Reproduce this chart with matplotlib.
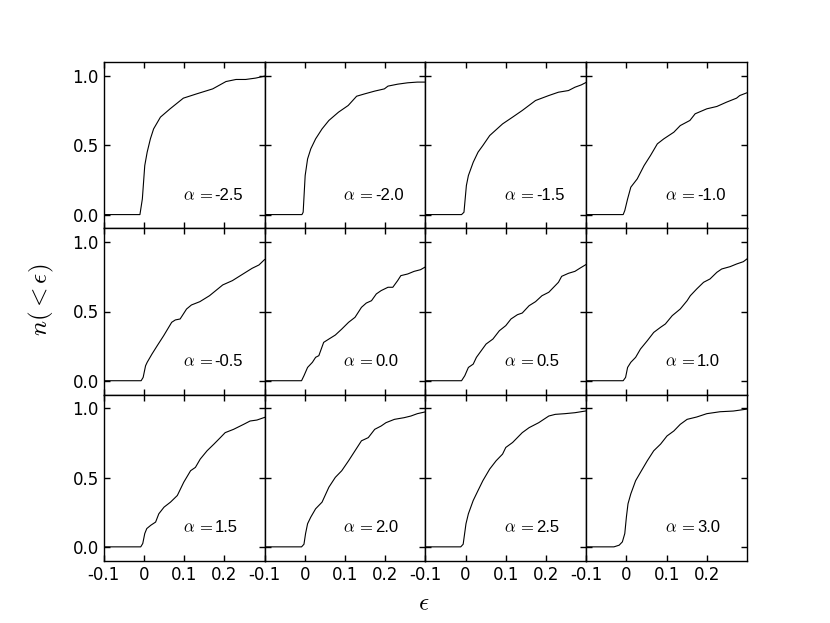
import matplotlib.pyplot as plt

plt.rcParams['mathtext.fontset'] = 'cm'
plt.rcParams['axes.linewidth'] = 1.0

# alpha value shown in each panel (row by row)
alphas = ['-2.5', '-2.0', '-1.5', '-1.0', '-0.5', '0.0', '0.5', '1.0', '1.5', '2.0', '2.5', '3.0']

# cumulative curves n(<eps)
eps_a = [-0.1, -0.010, -0.004, 0.002, 0.008, 0.016, 0.024, 0.041, 0.065, 0.098, 0.131, 0.171, 0.204, 0.229, 0.253, 0.278, 0.30]
n_a = [0.0, 0.0, 0.113, 0.354, 0.451, 0.547, 0.619, 0.704, 0.764, 0.841, 0.872, 0.908, 0.961, 0.976, 0.976, 0.986, 1.0]

eps_b = [-0.1, -0.007, -0.004, 0.001, 0.007, 0.015, 0.027, 0.043, 0.060, 0.084, 0.108, 0.129, 0.149, 0.174, 0.198, 0.207, 0.231, 0.256, 0.280, 0.30]
n_b = [0.0, 0.0, 0.017, 0.282, 0.402, 0.475, 0.547, 0.619, 0.680, 0.740, 0.788, 0.855, 0.872, 0.892, 0.908, 0.928, 0.942, 0.952, 0.957, 0.957]

eps_c = [-0.1, -0.010, -0.004, 0.002, 0.007, 0.019, 0.031, 0.043, 0.060, 0.092, 0.117, 0.141, 0.174, 0.207, 0.231, 0.256, 0.272, 0.288, 0.30]
n_c = [0.0, 0.0, 0.017, 0.210, 0.282, 0.378, 0.451, 0.499, 0.571, 0.655, 0.704, 0.752, 0.824, 0.860, 0.884, 0.896, 0.920, 0.937, 0.955]

eps_d = [-0.1, -0.008, -0.004, 0.003, 0.011, 0.027, 0.044, 0.060, 0.077, 0.093, 0.118, 0.134, 0.158, 0.171, 0.200, 0.225, 0.249, 0.274, 0.282, 0.30]
n_d = [0.0, 0.0, 0.029, 0.113, 0.198, 0.258, 0.354, 0.427, 0.511, 0.547, 0.595, 0.643, 0.680, 0.728, 0.764, 0.781, 0.812, 0.841, 0.860, 0.880]

eps_e = [-0.1, -0.007, -0.002, 0.004, 0.008, 0.020, 0.033, 0.049, 0.069, 0.078, 0.090, 0.106, 0.118, 0.139, 0.163, 0.196, 0.220, 0.253, 0.269, 0.286, 0.30]
n_e = [0.0, 0.0, 0.024, 0.108, 0.133, 0.193, 0.253, 0.325, 0.422, 0.439, 0.446, 0.518, 0.547, 0.571, 0.614, 0.692, 0.723, 0.783, 0.812, 0.836, 0.875]

eps_f = [-0.1, -0.008, -0.002, 0.007, 0.019, 0.027, 0.035, 0.047, 0.060, 0.076, 0.092, 0.109, 0.125, 0.141, 0.153, 0.166, 0.178, 0.190, 0.207, 0.219, 0.231, 0.239, 0.256, 0.272, 0.288, 0.30]
n_f = [0.0, 0.0, 0.036, 0.096, 0.133, 0.169, 0.181, 0.277, 0.301, 0.330, 0.373, 0.422, 0.458, 0.530, 0.561, 0.578, 0.627, 0.651, 0.675, 0.675, 0.723, 0.759, 0.771, 0.790, 0.802, 0.822]

eps_g = [-0.1, -0.010, -0.002, 0.007, 0.019, 0.027, 0.039, 0.051, 0.068, 0.084, 0.100, 0.113, 0.129, 0.141, 0.158, 0.174, 0.190, 0.207, 0.223, 0.231, 0.239, 0.256, 0.272, 0.284, 0.30]
n_g = [0.0, 0.0, 0.036, 0.096, 0.120, 0.169, 0.217, 0.265, 0.301, 0.361, 0.398, 0.446, 0.477, 0.489, 0.542, 0.571, 0.614, 0.639, 0.687, 0.711, 0.754, 0.776, 0.790, 0.812, 0.840]

eps_h = [-0.1, -0.008, -0.002, 0.003, 0.011, 0.023, 0.035, 0.052, 0.068, 0.085, 0.097, 0.114, 0.134, 0.151, 0.159, 0.175, 0.192, 0.208, 0.225, 0.237, 0.258, 0.274, 0.291, 0.30]
n_h = [0.0, 0.0, 0.024, 0.096, 0.133, 0.169, 0.229, 0.289, 0.349, 0.386, 0.410, 0.470, 0.518, 0.578, 0.614, 0.663, 0.711, 0.735, 0.783, 0.807, 0.824, 0.843, 0.860, 0.880]

eps_i = [-0.1, -0.008, -0.003, 0.002, 0.007, 0.017, 0.029, 0.037, 0.050, 0.066, 0.083, 0.099, 0.116, 0.128, 0.140, 0.157, 0.174, 0.190, 0.202, 0.223, 0.248, 0.264, 0.281, 0.30]
n_i = [0.0, 0.0, 0.024, 0.096, 0.132, 0.156, 0.179, 0.239, 0.287, 0.323, 0.371, 0.467, 0.550, 0.574, 0.634, 0.694, 0.742, 0.789, 0.825, 0.849, 0.885, 0.909, 0.916, 0.935]

eps_j = [-0.1, -0.008, -0.002, 0.002, 0.007, 0.015, 0.027, 0.043, 0.060, 0.076, 0.092, 0.109, 0.125, 0.141, 0.158, 0.174, 0.190, 0.202, 0.223, 0.247, 0.264, 0.280, 0.30]
n_j = [0.0, 0.0, 0.019, 0.096, 0.167, 0.215, 0.275, 0.323, 0.431, 0.502, 0.550, 0.622, 0.694, 0.766, 0.789, 0.849, 0.873, 0.897, 0.921, 0.933, 0.945, 0.962, 0.975]

eps_k = [-0.1, -0.012, -0.006, 0.001, 0.007, 0.019, 0.031, 0.043, 0.060, 0.076, 0.092, 0.100, 0.117, 0.141, 0.158, 0.182, 0.207, 0.223, 0.247, 0.272, 0.30]
n_k = [0.0, 0.0, 0.019, 0.167, 0.239, 0.335, 0.407, 0.478, 0.562, 0.622, 0.670, 0.718, 0.754, 0.825, 0.861, 0.897, 0.945, 0.957, 0.962, 0.969, 0.982]

eps_l = [-0.1, -0.031, -0.018, -0.010, -0.004, 0.0, 0.004, 0.011, 0.023, 0.035, 0.052, 0.068, 0.085, 0.101, 0.118, 0.134, 0.151, 0.175, 0.200, 0.233, 0.266, 0.30]
n_l = [0.0, 0.0, 0.012, 0.036, 0.096, 0.215, 0.311, 0.383, 0.478, 0.538, 0.622, 0.694, 0.742, 0.801, 0.837, 0.885, 0.921, 0.938, 0.962, 0.976, 0.981, 0.995]

curves = [(eps_a, n_a), (eps_b, n_b), (eps_c, n_c), (eps_d, n_d),
          (eps_e, n_e), (eps_f, n_f), (eps_g, n_g), (eps_h, n_h),
          (eps_i, n_i), (eps_j, n_j), (eps_k, n_k), (eps_l, n_l)]

x_ticks = [-0.1, 0.0, 0.1, 0.2]
x_ticklabels = ['-0.1', '0', '0.1', '0.2']
y_ticks = [0.0, 0.5, 1.0]
y_ticklabels = ['0.0', '0.5', '1.0']

fig, axes = plt.subplots(3, 4, figsize=(8.3, 6.23), dpi=100, sharex=True, sharey=True)
fig.subplots_adjust(left=0.125, right=0.9, top=0.9, bottom=0.1, wspace=0, hspace=0)

for k, ax in enumerate(axes.flat):
    xs, ys = curves[k]
    ax.plot(xs, ys, color='black', lw=0.8)
    ax.set_xlim(-0.1, 0.3)
    ax.set_ylim(-0.1, 1.1)
    ax.set_xticks(x_ticks)
    ax.set_yticks(y_ticks)
    ax.tick_params(direction='in', top=True, right=True, length=4,
                   labelsize=12, width=1.0)
    # alpha symbol in math font, the number in a plain sans font next to it
    t1 = ax.text(0.49, 0.17, r'$\alpha\,=$', transform=ax.transAxes,
                 ha='left', va='baseline', fontsize=12)
    ax.annotate(alphas[k], xy=(1, 0.17), xycoords=(t1, 'axes fraction'),
                xytext=(1.5, 0), textcoords='offset points',
                ha='left', va='baseline', fontsize=12, family='Liberation Sans')

for ax in axes[-1, :]:
    ax.set_xticklabels(x_ticklabels)
for ax in axes[:, 0]:
    ax.set_yticklabels(y_ticklabels)

fig.text(0.05, 0.518, r'$n(<\epsilon)$', rotation=90, ha='center', va='center', fontsize=18)
fig.text(0.511, 0.032, r'$\epsilon$', ha='center', va='center', fontsize=18)

fig.savefig('out.png', dpi=100)
